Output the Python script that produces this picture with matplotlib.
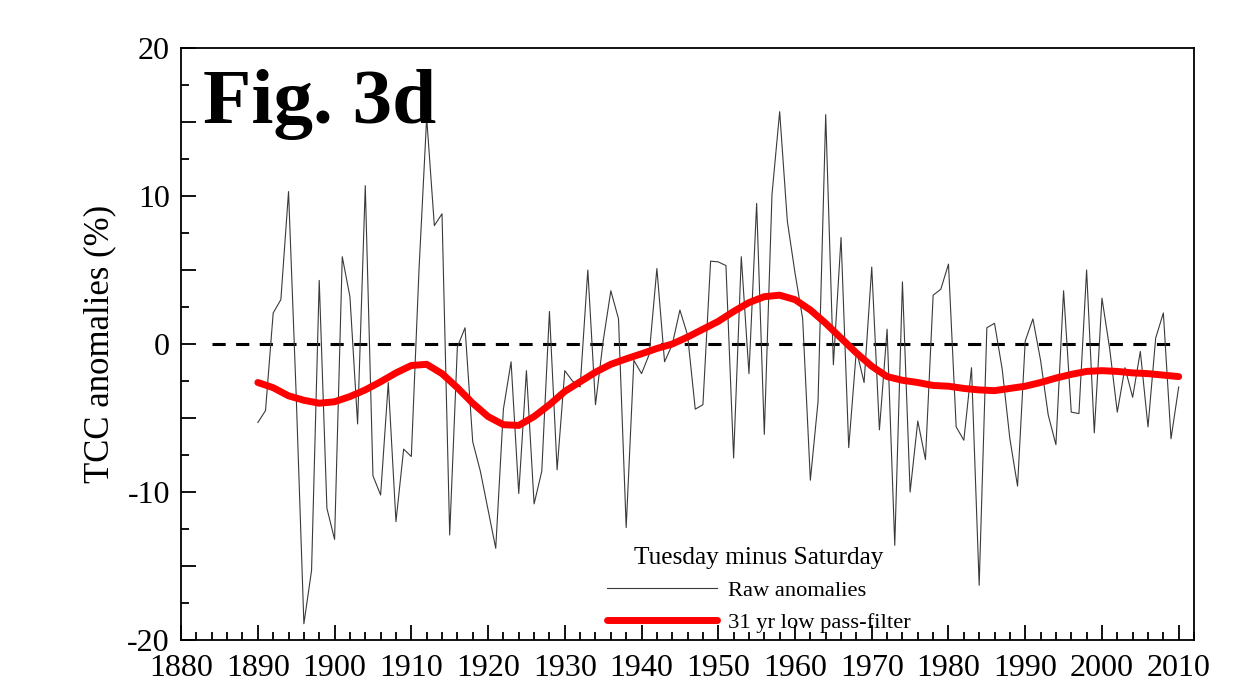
import matplotlib
matplotlib.use('Agg')
import matplotlib.pyplot as plt
import numpy as np
from matplotlib.ticker import MultipleLocator, FuncFormatter

plt.rcParams['font.family'] = ['Liberation Serif', 'DejaVu Serif']
plt.rcParams['lines.scale_dashes'] = False

# raw yearly anomalies 1890-2010
years = np.arange(1890, 2011)
raw = [-5.3, -4.5, 2.1, 3.0, 10.3, -3.5, -18.9, -15.3, 4.3, -11.1,
       -13.2, 5.9, 3.2, -5.4, 10.7, -8.9, -10.2, -2.6, -12.0, -7.1,
       -7.6, 5.0, 15.3, 8.0, 8.8, -12.9, -0.2, 1.1, -6.6, -8.6,
       -11.2, -13.8, -4.4, -1.2, -10.1, -1.8, -10.8, -8.6, 2.2, -8.5,
       -1.8, -2.5, -2.9, 5.0, -4.1, 0.2, 3.6, 1.7, -12.4, -1.1,
       -2.0, -0.7, 5.1, -1.2, -0.05, 2.3, 0.6, -4.4, -4.1, 5.6,
       5.55, 5.3, -7.7, 5.9, -2.0, 9.5, -6.1, 10.1, 15.7, 8.3,
       4.8, 1.7, -9.2, -3.9, 15.5, -1.4, 7.2, -7.0, -0.4, -2.6,
       5.2, -5.8, 1.0, -13.6, 4.2, -10.0, -5.2, -7.8, 3.3, 3.7,
       5.4, -5.6, -6.5, -1.6, -16.3, 1.1, 1.4, -1.7, -6.4, -9.6,
       0.2, 1.7, -1.1, -4.8, -6.8, 3.6, -4.6, -4.7, 5.0, -6.0,
       3.1, -0.3, -4.6, -1.6, -3.6, -0.5, -5.6, 0.4, 2.1, -6.4,
       -2.9]

# 31 yr low pass-filter curve, every second year
filt_years = np.arange(1890, 2011, 2)
filt = [-2.6, -2.95, -3.5, -3.8, -4.0, -3.9, -3.55, -3.1, -2.55, -1.95,
        -1.45, -1.37, -2.0, -2.95, -4.0, -4.9, -5.45, -5.5, -4.9, -4.1,
        -3.2, -2.55, -1.9, -1.37, -1.0, -0.66, -0.3, 0.0, 0.47, 1.0,
        1.53, 2.2, 2.8, 3.2, 3.3, 3.0, 2.3, 1.4, 0.4, -0.6,
        -1.5, -2.2, -2.45, -2.6, -2.8, -2.85, -3.0, -3.1, -3.15, -3.0,
        -2.85, -2.6, -2.3, -2.05, -1.85, -1.8, -1.85, -1.95, -2.0, -2.1,
        -2.2]

zero_span = [1884, 2010]

fig = plt.figure(figsize=(12.49, 6.86), dpi=100)
ax = fig.add_axes([0.145, 0.067, 0.811, 0.863])

ax.plot(zero_span, [0, 0], color='black', lw=2.2, dashes=(9.5, 7.5), zorder=1)
ax.plot(years, raw, color='#3a3a3a', lw=0.8, label='Raw anomalies', zorder=2)
ax.plot(filt_years, filt, color='#ff0000', lw=5, solid_capstyle='round',
        label='31 yr low pass-filter', zorder=3)

ax.set_xlim(1880, 2012)
ax.set_ylim(-20, 20)
ax.xaxis.set_major_locator(MultipleLocator(10))
ax.xaxis.set_minor_locator(MultipleLocator(2))
ax.yaxis.set_major_locator(MultipleLocator(5))
ax.yaxis.set_minor_locator(MultipleLocator(2.5))
ax.yaxis.set_major_formatter(FuncFormatter(lambda v, p: '%d' % v if v % 10 == 0 else ''))
ax.tick_params(which='both', direction='in', top=False, right=False, width=1.3, labelsize=23)
ax.tick_params(which='major', length=11)
ax.tick_params(which='minor', length=6)
ax.tick_params(axis='x', pad=10)
ax.tick_params(axis='y', pad=8)
for s in ax.spines.values():
    s.set_linewidth(1.3)

ax.set_ylabel('TCC anomalies (%)', fontsize=25, labelpad=8)

ax.text(0.022, 0.965, 'Fig. 3d', transform=ax.transAxes, fontsize=57,
        fontweight='bold', va='top', ha='left')

leg = ax.legend(loc='lower left', bbox_to_anchor=(0.4, -0.022), frameon=False,
                title='Tuesday minus Saturday', fontsize=16.2, handlelength=4.9,
                handletextpad=0.5, labelspacing=0.5)
leg.get_title().set_fontsize(18.3)

fig.savefig('out.png', dpi=100)
